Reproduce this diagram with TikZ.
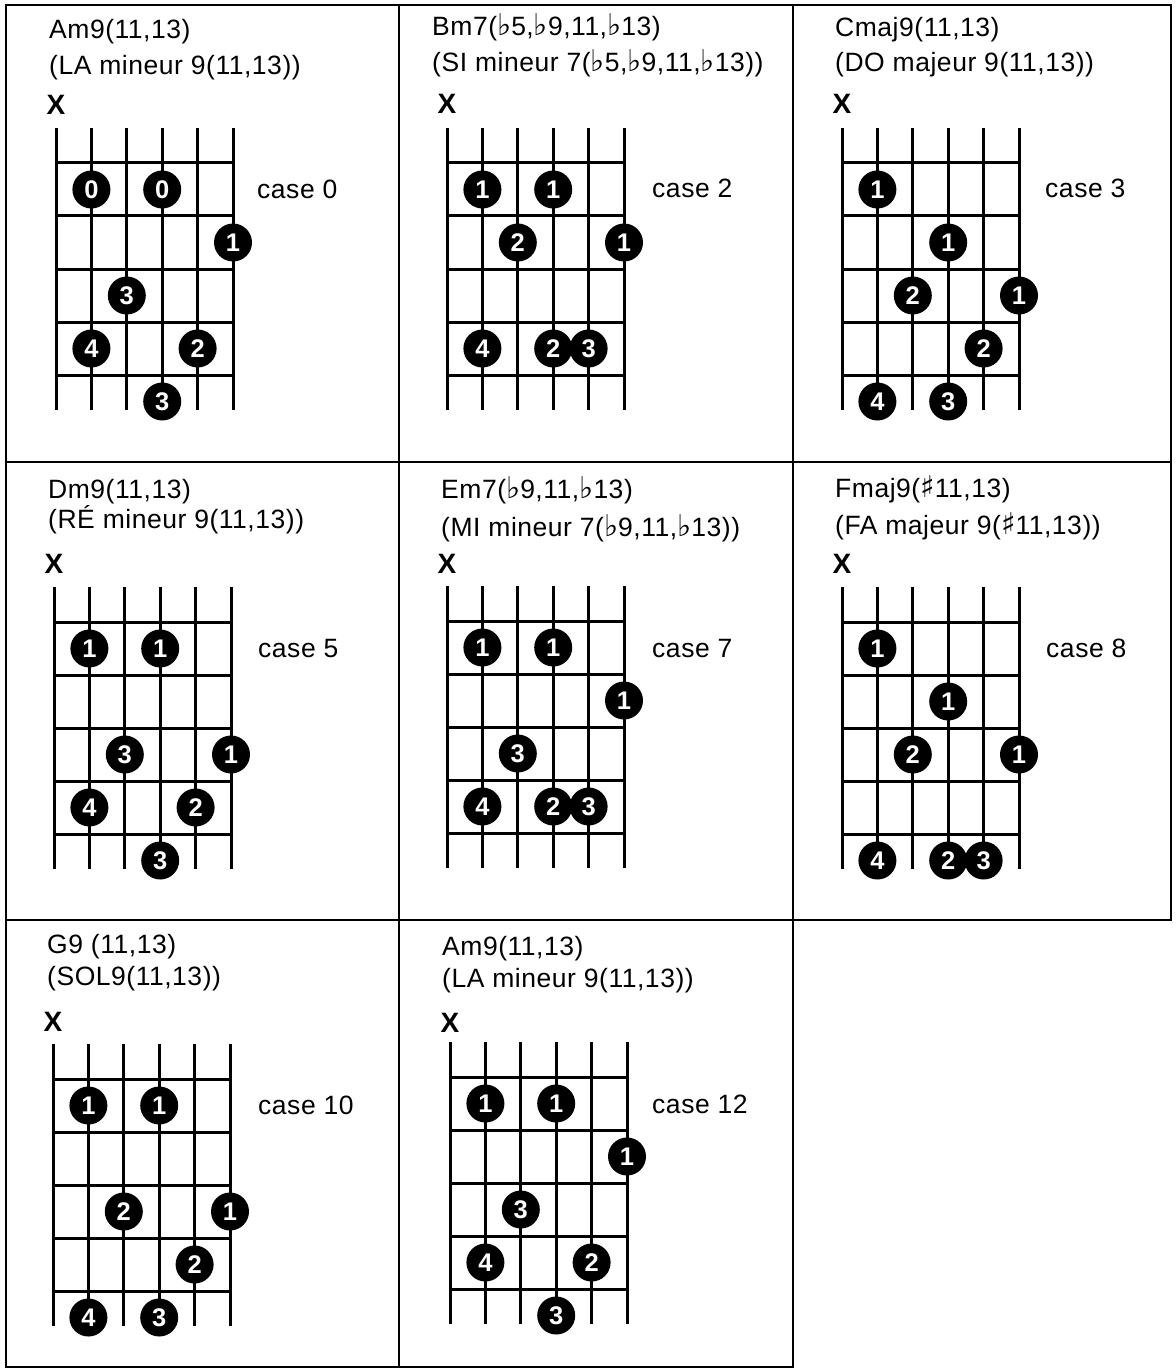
\documentclass[tikz,border=0pt]{standalone}
\usepackage{fontspec}
\setmainfont{Liberation Sans}
\newfontfamily\chordfont[LetterSpace=2]{Liberation Sans}
\newfontfamily\symfont{DejaVu Sans}
\newcommand\flt{{\symfont\fontsize{30}{30}\selectfont ♭}}
\newcommand\shp{{\symfont\fontsize{30}{30}\selectfont ♯}}

\begin{document}
\begin{tikzpicture}[
    x=1pt, y=-1pt,
    frame/.style={line width=2pt, line cap=rect},
    fretline/.style={line width=3pt},
    title/.style={anchor=base west, inner sep=0pt, font=\chordfont\fontsize{26.5}{30}\selectfont},
    caselabel/.style={anchor=base west, inner sep=0pt, font=\chordfont\fontsize{26.5}{30}\selectfont},
    mute/.style={inner sep=0pt, font=\bfseries\fontsize{28}{32}\selectfont},
    finger/.style={circle, fill=black, text=white, minimum size=38pt, inner sep=0pt, font=\bfseries\fontsize{25.5}{27}\selectfont}
]
    \useasboundingbox (0,0) rectangle (1175,1372);

    % Tableau
    \draw[frame] (793,1367) -- (6,1367) -- (6,5.5) -- (1171,5.5) -- (1171,920);
    \draw[frame] (6,462) -- (1171,462);
    \draw[frame] (6,920) -- (1171,920);
    \draw[frame] (398.5,5.5) -- (398.5,1367);
    \draw[frame] (793,5.5) -- (793,1367);

    % Am9(11,13) - case 0
    \begin{scope}[shift={(56,163)}]
        \foreach \s in {0,...,5} \draw[fretline] (\s*35.4,-35) -- (\s*35.4,247);
        \foreach \f in {0,...,4} \draw[fretline] (0,\f*53) -- (177,\f*53);
        \node[title] (t1a) at (-7,-124) {Am9(11,13)};
        \node[title] (t1b) at (-7,-88) {(LA mineur 9(11,13))};
        \node[mute] (x1) at (0,-58) {X};
        \node[caselabel] (c1) at (201,36) {case 0};
        \foreach \s/\f/\d in {2/1/0, 4/1/0, 6/2/1, 3/3/3, 2/4/4, 5/4/2, 4/5/3}
            \node[finger] (d1-\s-\f) at ({(\s-1)*35.4},{(\f-0.5)*53}) {\d};
    \end{scope}

    % Bm7(b5,b9,11,b13) - case 2
    \begin{scope}[shift={(447,163)}]
        \foreach \s in {0,...,5} \draw[fretline] (\s*35.4,-35) -- (\s*35.4,247);
        \foreach \f in {0,...,4} \draw[fretline] (0,\f*53) -- (177,\f*53);
        \node[title] (t2a) at (-15,-127) {Bm7(\flt5,\flt9,11,\flt13)};
        \node[title] (t2b) at (-15,-91) {(SI mineur 7(\flt5,\flt9,11,\flt13))};
        \node[mute] (x2) at (0,-59) {X};
        \node[caselabel] (c2) at (205,35) {case 2};
        \foreach \s/\f/\d in {2/1/1, 4/1/1, 3/2/2, 6/2/1, 2/4/4, 4/4/2, 5/4/3}
            \node[finger] (d2-\s-\f) at ({(\s-1)*35.4},{(\f-0.5)*53}) {\d};
    \end{scope}

    % Cmaj9(11,13) - case 3
    \begin{scope}[shift={(842,163)}]
        \foreach \s in {0,...,5} \draw[fretline] (\s*35.4,-35) -- (\s*35.4,247);
        \foreach \f in {0,...,4} \draw[fretline] (0,\f*53) -- (177,\f*53);
        \node[title] (t3a) at (-7,-126) {Cmaj9(11,13)};
        \node[title] (t3b) at (-7,-91) {(DO majeur 9(11,13))};
        \node[mute] (x3) at (0,-59) {X};
        \node[caselabel] (c3) at (203,35) {case 3};
        \foreach \s/\f/\d in {2/1/1, 4/2/1, 3/3/2, 6/3/1, 5/4/2, 2/5/4, 4/5/3}
            \node[finger] (d3-\s-\f) at ({(\s-1)*35.4},{(\f-0.5)*53}) {\d};
    \end{scope}

    % Dm9(11,13) - case 5
    \begin{scope}[shift={(54,622)}]
        \foreach \s in {0,...,5} \draw[fretline] (\s*35.4,-35) -- (\s*35.4,247);
        \foreach \f in {0,...,4} \draw[fretline] (0,\f*53) -- (177,\f*53);
        \node[title] (t4a) at (-6,-124) {Dm9(11,13)};
        \node[title] (t4b) at (-6,-94) {(RÉ mineur 9(11,13))};
        \node[mute] (x4) at (0,-58) {X};
        \node[caselabel] (c4) at (204,35) {case 5};
        \foreach \s/\f/\d in {2/1/1, 4/1/1, 3/3/3, 6/3/1, 2/4/4, 5/4/2, 4/5/3}
            \node[finger] (d4-\s-\f) at ({(\s-1)*35.4},{(\f-0.5)*53}) {\d};
    \end{scope}

    % Em7(b9,11,b13) - case 7
    \begin{scope}[shift={(447,621)}]
        \foreach \s in {0,...,5} \draw[fretline] (\s*35.4,-35) -- (\s*35.4,247);
        \foreach \f in {0,...,4} \draw[fretline] (0,\f*53) -- (177,\f*53);
        \node[title] (t5a) at (-6,-123) {Em7(\flt9,11,\flt13)};
        \node[title] (t5b) at (-6,-85) {(MI mineur 7(\flt9,11,\flt13))};
        \node[mute] (x5) at (0,-57) {X};
        \node[caselabel] (c5) at (205,36) {case 7};
        \foreach \s/\f/\d in {2/1/1, 4/1/1, 6/2/1, 3/3/3, 2/4/4, 4/4/2, 5/4/3}
            \node[finger] (d5-\s-\f) at ({(\s-1)*35.4},{(\f-0.5)*53}) {\d};
    \end{scope}

    % Fmaj9(#11,13) - case 8
    \begin{scope}[shift={(842,622)}]
        \foreach \s in {0,...,5} \draw[fretline] (\s*35.4,-35) -- (\s*35.4,247);
        \foreach \f in {0,...,4} \draw[fretline] (0,\f*53) -- (177,\f*53);
        \node[title] (t6a) at (-7,-125) {Fmaj9(\shp11,13)};
        \node[title] (t6b) at (-7,-88) {(FA majeur 9(\shp11,13))};
        \node[mute] (x6) at (0,-58) {X};
        \node[caselabel] (c6) at (204,35) {case 8};
        \foreach \s/\f/\d in {2/1/1, 4/2/1, 3/3/2, 6/3/1, 2/5/4, 4/5/2, 5/5/3}
            \node[finger] (d6-\s-\f) at ({(\s-1)*35.4},{(\f-0.5)*53}) {\d};
    \end{scope}

    % G9(11,13) - case 10
    \begin{scope}[shift={(53,1079)}]
        \foreach \s in {0,...,5} \draw[fretline] (\s*35.4,-35) -- (\s*35.4,247);
        \foreach \f in {0,...,4} \draw[fretline] (0,\f*53) -- (177,\f*53);
        \node[title] (t7a) at (-6,-126) {G9 (11,13)};
        \node[title] (t7b) at (-6,-94) {(SOL9(11,13))};
        \node[mute] (x7) at (0,-57) {X};
        \node[caselabel] (c7) at (205,35) {case 10};
        \foreach \s/\f/\d in {2/1/1, 4/1/1, 3/3/2, 6/3/1, 5/4/2, 2/5/4, 4/5/3}
            \node[finger] (d7-\s-\f) at ({(\s-1)*35.4},{(\f-0.5)*53}) {\d};
    \end{scope}

    % Am9(11,13) - case 12
    \begin{scope}[shift={(450,1077)}]
        \foreach \s in {0,...,5} \draw[fretline] (\s*35.4,-35) -- (\s*35.4,247);
        \foreach \f in {0,...,4} \draw[fretline] (0,\f*53) -- (177,\f*53);
        \node[title] (t8a) at (-8,-122) {Am9(11,13)};
        \node[title] (t8b) at (-8,-90) {(LA mineur 9(11,13))};
        \node[mute] (x8) at (0,-54) {X};
        \node[caselabel] (c8) at (202,36) {case 12};
        \foreach \s/\f/\d in {2/1/1, 4/1/1, 6/2/1, 3/3/3, 2/4/4, 5/4/2, 4/5/3}
            \node[finger] (d8-\s-\f) at ({(\s-1)*35.4},{(\f-0.5)*53}) {\d};
    \end{scope}
\end{tikzpicture}
\end{document}
